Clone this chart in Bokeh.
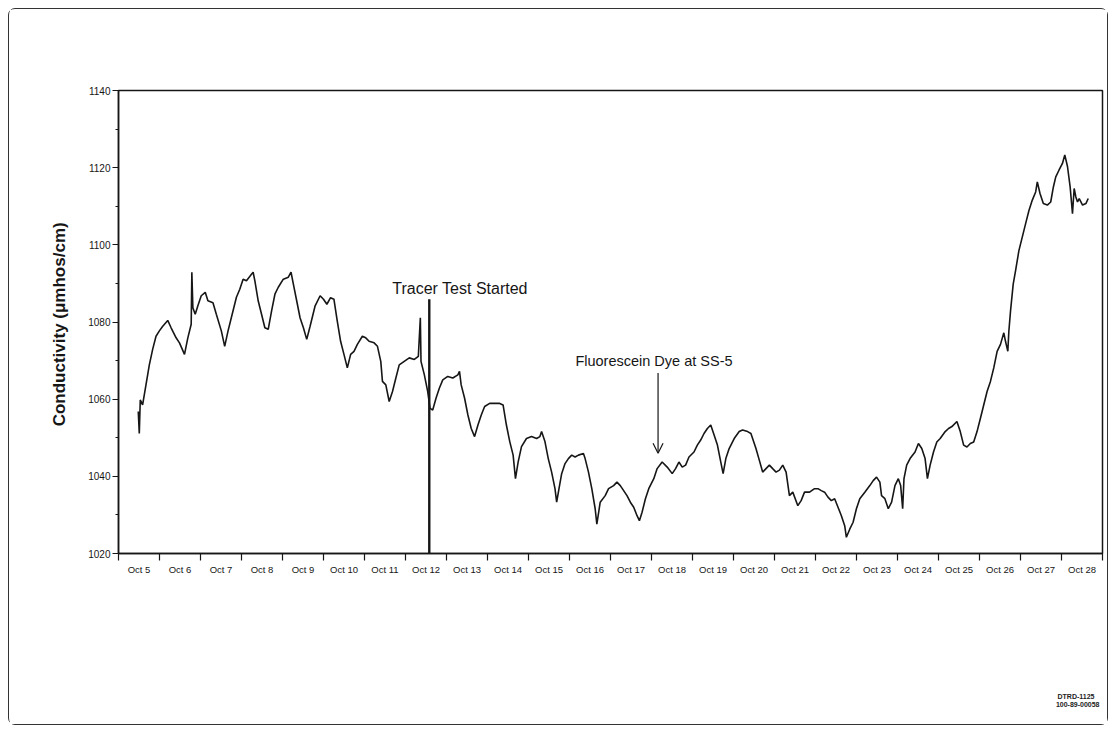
from bokeh.plotting import figure
from bokeh.models import FixedTicker, Label, Arrow, OpenHead, Title
from bokeh.embed import file_html
from bokeh.resources import INLINE

# x = days since Oct 5 00:00, y = conductivity (umhos/cm)
day_labels = ["Oct 5", "Oct 6", "Oct 7", "Oct 8", "Oct 9", "Oct 10", "Oct 11", "Oct 12",
              "Oct 13", "Oct 14", "Oct 15", "Oct 16", "Oct 17", "Oct 18", "Oct 19", "Oct 20",
              "Oct 21", "Oct 22", "Oct 23", "Oct 24", "Oct 25", "Oct 26", "Oct 27", "Oct 28"]
y_ticks = [1020, 1040, 1060, 1080, 1100, 1120, 1140]

days_a = [0.482, 0.507, 0.531, 0.588, 0.670, 0.752, 0.833, 0.915, 0.997, 1.079, 1.201, 1.283, 1.405, 1.487, 1.610,
          1.691, 1.773, 1.789, 1.814, 1.871, 1.936, 2.018, 2.116, 2.181, 2.304, 2.386, 2.508, 2.590, 2.672, 2.794,
          2.876, 2.958, 3.039, 3.121, 3.243, 3.284, 3.325, 3.407, 3.489, 3.570, 3.652, 3.734, 3.815, 3.897, 4.020,
          4.142, 4.208, 4.265, 4.346, 4.428, 4.510, 4.591, 4.673, 4.796, 4.918, 5.000, 5.082]
cond_a = [1056.8, 1051.1, 1059.8, 1058.5, 1063.7, 1068.9, 1072.9, 1076.3, 1077.7, 1078.9, 1080.4, 1078.5, 1075.9, 1074.6, 1071.6,
          1075.9, 1079.4, 1092.9, 1083.7, 1082.0, 1084.2, 1086.8, 1087.7, 1085.5, 1085.0, 1082.0, 1077.7, 1073.7, 1077.7, 1082.9,
          1086.4, 1088.5, 1091.1, 1090.7, 1092.4, 1092.9, 1090.7, 1085.5, 1082.0, 1078.5, 1078.1, 1082.9, 1087.2, 1089.0, 1091.1,
          1091.6, 1092.9, 1089.8, 1085.5, 1081.1, 1078.5, 1075.5, 1078.9, 1084.2, 1086.8, 1085.9, 1084.6]

days_b = [5.172, 5.254, 5.335, 5.417, 5.499, 5.581, 5.662, 5.744, 5.826, 5.948, 6.030, 6.112, 6.234, 6.316, 6.397,
          6.438, 6.520, 6.602, 6.683, 6.765, 6.847, 6.969, 7.092, 7.215, 7.313, 7.362, 7.378, 7.460, 7.541, 7.598,
          7.664, 7.746, 7.827, 7.909, 8.031, 8.154, 8.277, 8.317, 8.358, 8.440, 8.522, 8.603, 8.685, 8.767, 8.848,
          8.930, 9.053, 9.175, 9.298, 9.380, 9.461, 9.543, 9.625, 9.682, 9.747, 9.829, 9.951, 10.074, 10.197, 10.278]
cond_b = [1086.3, 1085.9, 1080.3, 1075.0, 1071.6, 1068.1, 1071.6, 1072.4, 1074.2, 1076.3, 1075.9, 1075.0, 1074.6, 1073.7, 1069.8,
          1064.6, 1063.7, 1059.4, 1062.0, 1065.5, 1068.9, 1069.8, 1070.7, 1070.3, 1071.1, 1081.1, 1069.8, 1066.3, 1062.0, 1057.6,
          1057.2, 1060.3, 1062.9, 1065.0, 1065.9, 1065.5, 1066.3, 1067.2, 1063.7, 1060.3, 1055.9, 1052.4, 1050.3, 1053.3, 1055.9,
          1058.1, 1058.9, 1058.9, 1058.9, 1058.5, 1053.3, 1049.0, 1045.5, 1039.4, 1043.7, 1047.7, 1049.8, 1050.3, 1049.8, 1050.3]

days_c = [10.319, 10.401, 10.482, 10.564, 10.646, 10.687, 10.744, 10.809, 10.891, 10.973, 11.054, 11.136, 11.218, 11.340, 11.381,
          11.463, 11.544, 11.626, 11.667, 11.749, 11.871, 11.953, 12.076, 12.157, 12.239, 12.321, 12.402, 12.484, 12.566, 12.647,
          12.705, 12.770, 12.852, 12.933, 13.056, 13.138, 13.260, 13.383, 13.505, 13.587, 13.669, 13.750, 13.832, 13.914, 14.036,
          14.118, 14.200, 14.281, 14.363, 14.445, 14.527, 14.608, 14.690, 14.747, 14.813, 14.894, 15.017, 15.139, 15.221, 15.344,
          15.425, 15.548, 15.629, 15.711, 15.793, 15.875, 15.956, 16.038, 16.120]
cond_c = [1051.6, 1049.0, 1044.6, 1041.1, 1036.8, 1033.3, 1036.8, 1040.7, 1043.3, 1044.6, 1045.5, 1045.0, 1045.5, 1045.9, 1044.6,
          1041.1, 1036.8, 1031.6, 1027.6, 1033.3, 1035.0, 1036.8, 1037.6, 1038.5, 1037.6, 1036.3, 1035.0, 1033.3, 1032.0, 1029.8,
          1028.5, 1030.7, 1034.2, 1036.8, 1039.4, 1042.0, 1043.7, 1042.4, 1040.7, 1042.0, 1043.7, 1042.4, 1042.9, 1045.0, 1046.3,
          1048.1, 1049.4, 1051.1, 1052.4, 1053.3, 1050.7, 1048.1, 1043.7, 1040.7, 1044.6, 1047.2, 1049.8, 1051.6, 1052.0, 1051.6,
          1051.1, 1047.2, 1044.2, 1041.1, 1042.0, 1042.9, 1042.0, 1041.1, 1041.6]

days_d = [16.201, 16.283, 16.364, 16.446, 16.569, 16.650, 16.732, 16.855, 16.977, 17.059, 17.141, 17.222, 17.304, 17.386, 17.467,
          17.549, 17.631, 17.712, 17.753, 17.835, 17.917, 17.998, 18.080, 18.203, 18.325, 18.407, 18.489, 18.570, 18.611, 18.693,
          18.775, 18.856, 18.938, 19.020, 19.077, 19.126, 19.158, 19.224, 19.306, 19.428, 19.510, 19.592, 19.673, 19.730, 19.796,
          19.878, 19.959, 20.041, 20.164, 20.245, 20.327, 20.449, 20.531, 20.613, 20.694, 20.776, 20.858]
cond_d = [1042.9, 1041.1, 1035.0, 1035.9, 1032.4, 1033.7, 1035.9, 1035.9, 1036.8, 1036.8, 1036.3, 1035.9, 1034.6, 1033.7, 1034.2,
          1032.0, 1029.8, 1027.2, 1024.2, 1026.3, 1028.1, 1031.6, 1034.2, 1035.9, 1037.6, 1038.9, 1039.8, 1038.5, 1035.0, 1034.2,
          1031.6, 1033.3, 1037.6, 1039.4, 1037.6, 1031.6, 1039.4, 1042.9, 1044.6, 1046.3, 1048.5, 1047.2, 1044.6, 1039.4, 1042.9,
          1046.3, 1048.9, 1049.8, 1051.6, 1052.4, 1052.9, 1054.2, 1051.6, 1048.1, 1047.6, 1048.5, 1048.9]

days_e = [20.940, 21.021, 21.103, 21.185, 21.267, 21.348, 21.430, 21.512, 21.593, 21.634, 21.691, 21.716, 21.757, 21.822, 21.880,
          21.961, 22.043, 22.125, 22.206, 22.288, 22.370, 22.410, 22.476, 22.557, 22.655, 22.737, 22.802, 22.860, 22.941, 23.023,
          23.080, 23.146, 23.211, 23.268, 23.309, 23.350, 23.391, 23.432, 23.514, 23.595, 23.652]
cond_e = [1051.6, 1055.0, 1058.5, 1062.0, 1064.6, 1068.1, 1072.4, 1074.2, 1077.2, 1075.0, 1072.4, 1077.6, 1082.9, 1089.8, 1093.3,
          1098.5, 1102.0, 1105.5, 1108.9, 1111.6, 1113.7, 1116.3, 1113.3, 1110.7, 1110.3, 1111.1, 1115.0, 1117.6, 1119.4, 1121.1,
          1123.3, 1120.3, 1115.0, 1108.1, 1114.6, 1112.4, 1111.1, 1112.0, 1110.3, 1110.7, 1112.0]

tracer_day = 7.58
tracer_top = 1085.9
dye_day = 13.16
dye_arrow = [1066.8, 1046.0]
ref_numbers = ["DTRD-1125", "100-89-00058"]

days = days_a + days_b + days_c + days_d + days_e
cond = cond_a + cond_b + cond_c + cond_d + cond_e

FONT = "Liberation Sans"
INK = "#161616"

p = figure(width=1100, height=717, output_backend="svg", toolbar_location=None,
           x_range=(0, len(day_labels)), y_range=(y_ticks[0], y_ticks[-1]),
           min_border_left=109, min_border_right=7, min_border_top=81, min_border_bottom=173,
           styles={"border": "1.5px solid #333", "border-radius": "7px", "box-sizing": "border-box",
                   "margin-left": "8px", "margin-top": "8px"})
p.xgrid.visible = False
p.ygrid.visible = False
p.outline_line_color = INK
p.outline_line_width = 1.5
p.background_fill_color = "white"
p.border_fill_color = "white"

# x axis: labels centred in each day, ticks at day boundaries (minor ticks)
centers = [i + 0.5 for i in range(len(day_labels))]
p.xaxis.ticker = FixedTicker(ticks=centers, minor_ticks=list(range(len(day_labels) + 1)))
p.xaxis.major_label_overrides = {c: lab for c, lab in zip(centers, day_labels)}
p.xaxis.major_tick_out = 0
p.xaxis.major_tick_in = 0
p.xaxis.minor_tick_out = 7
p.xaxis.minor_tick_in = 0
p.xaxis.major_label_standoff = 3
p.xaxis.major_label_text_font = FONT
p.xaxis.major_label_text_font_size = "9.5px"
p.xaxis.major_label_text_color = INK
p.xaxis.axis_line_color = INK
p.xaxis.axis_line_width = 1.5
p.xaxis.minor_tick_line_color = INK
p.xaxis.minor_tick_line_width = 1.2

# y axis
p.yaxis.ticker = FixedTicker(ticks=y_ticks, minor_ticks=[1030, 1050, 1070, 1090, 1110, 1130])
p.yaxis.major_tick_out = 6
p.yaxis.major_tick_in = 0
p.yaxis.minor_tick_out = 3
p.yaxis.minor_tick_in = 0
p.yaxis.major_label_standoff = 2
p.yaxis.major_label_text_font = FONT
p.yaxis.major_label_text_font_size = "10px"
p.yaxis.major_label_text_color = INK
p.yaxis.axis_line_color = INK
p.yaxis.axis_line_width = 1.5
p.yaxis.major_tick_line_color = INK
p.yaxis.minor_tick_line_color = INK
p.yaxis.axis_label = "Conductivity  (\u03bcmhos/cm)"
p.yaxis.axis_label_text_font = FONT
p.yaxis.axis_label_text_font_style = "bold"
p.yaxis.axis_label_text_font_size = "17px"
p.yaxis.axis_label_text_color = INK
p.yaxis.axis_label_standoff = 16

p.line(days, cond, line_color=INK, line_width=1.6)

# tracer test marker
p.segment(x0=[tracer_day], y0=[tracer_top], x1=[tracer_day], y1=[y_ticks[0]], line_color=INK, line_width=2.4)
p.add_layout(Label(x=8.33, y=1086.6, text="Tracer Test Started", text_align="center",
                   text_font=FONT, text_font_size="16px", text_color=INK))

# dye arrival marker
p.add_layout(Arrow(x_start=dye_day, y_start=dye_arrow[0], x_end=dye_day, y_end=dye_arrow[1],
                   line_color=INK, line_width=1.2,
                   end=OpenHead(size=10, line_color=INK, line_width=1.2)))
p.add_layout(Label(x=13.06, y=1067.8, text="Fluorescein Dye at SS-5", text_align="center",
                   text_font=FONT, text_font_size="14.5px", text_color=INK))

# drawing reference numbers, bottom right (a blank title acts as a spacer below the axis)
p.add_layout(Title(text="\u00a0", standoff=104, text_font=FONT, text_font_size="7px"), "below")
p.add_layout(Title(text=ref_numbers[0], align="right", offset=8, standoff=0,
                   text_font=FONT, text_font_size="7px", text_font_style="bold", text_color="#222"), "below")
p.add_layout(Title(text=ref_numbers[1], align="right", offset=3, standoff=0,
                   text_font=FONT, text_font_size="7px", text_font_style="bold", text_color="#222"), "below")

open("out.html", "w").write(file_html(p, INLINE))
